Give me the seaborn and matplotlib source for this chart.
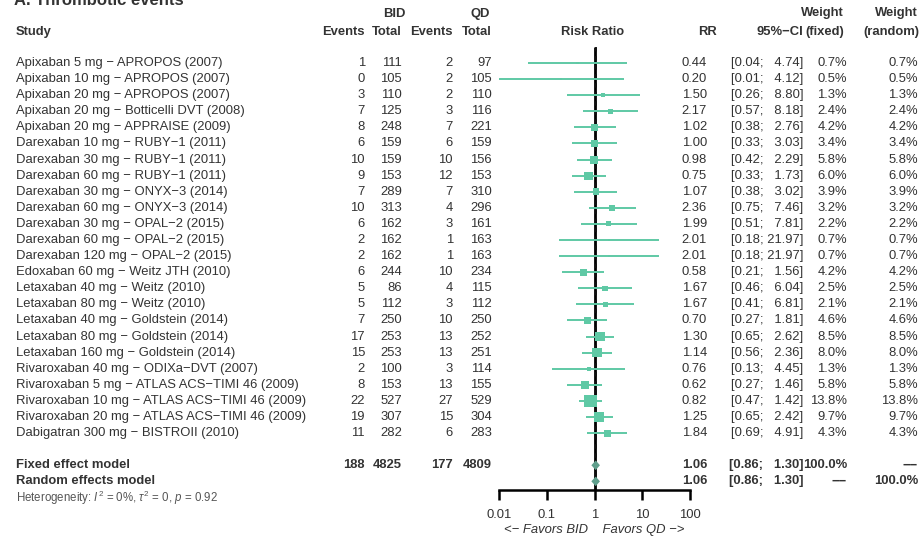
import numpy as np
import pandas as pd
import matplotlib
matplotlib.use("Agg")
import matplotlib.pyplot as plt
import seaborn as sns

# ---------------- data ----------------
studies = [
    "Apixaban 5 mg − APROPOS (2007)",
    "Apixaban 10 mg − APROPOS (2007)",
    "Apixaban 20 mg − APROPOS (2007)",
    "Apixaban 20 mg − Botticelli DVT (2008)",
    "Apixaban 20 mg − APPRAISE (2009)",
    "Darexaban 10 mg − RUBY−1 (2011)",
    "Darexaban 30 mg − RUBY−1 (2011)",
    "Darexaban 60 mg − RUBY−1 (2011)",
    "Darexaban 30 mg − ONYX−3 (2014)",
    "Darexaban 60 mg − ONYX−3 (2014)",
    "Darexaban 30 mg − OPAL−2 (2015)",
    "Darexaban 60 mg − OPAL−2 (2015)",
    "Darexaban 120 mg − OPAL−2 (2015)",
    "Edoxaban 60 mg − Weitz JTH (2010)",
    "Letaxaban 40 mg − Weitz (2010)",
    "Letaxaban 80 mg − Weitz (2010)",
    "Letaxaban 40 mg − Goldstein (2014)",
    "Letaxaban 80 mg − Goldstein (2014)",
    "Letaxaban 160 mg − Goldstein (2014)",
    "Rivaroxaban 40 mg − ODIXa−DVT (2007)",
    "Rivaroxaban 5 mg − ATLAS ACS−TIMI 46 (2009)",
    "Rivaroxaban 10 mg − ATLAS ACS−TIMI 46 (2009)",
    "Rivaroxaban 20 mg − ATLAS ACS−TIMI 46 (2009)",
    "Dabigatran 300 mg − BISTROII (2010)",
]
events_bid = [1, 0, 3, 7, 8, 6, 10, 9, 7, 10, 6, 2, 2, 6, 5, 5, 7, 17, 15, 2, 8, 22, 19, 11]
total_bid = [111, 105, 110, 125, 248, 159, 159, 153, 289, 313, 162, 162, 162, 244, 86, 112, 250, 253, 253, 100, 153, 527, 307, 282]
events_qd = [2, 2, 2, 3, 7, 6, 10, 12, 7, 4, 3, 1, 1, 10, 4, 3, 10, 13, 13, 3, 13, 27, 15, 6]
total_qd = [97, 105, 110, 116, 221, 159, 156, 153, 310, 296, 161, 163, 163, 234, 115, 112, 250, 252, 251, 114, 155, 529, 304, 283]
rr = [0.44, 0.20, 1.50, 2.17, 1.02, 1.00, 0.98, 0.75, 1.07, 2.36, 1.99, 2.01, 2.01, 0.58, 1.67, 1.67, 0.70, 1.30, 1.14, 0.76, 0.62, 0.82, 1.25, 1.84]
ci_low = [0.04, 0.01, 0.26, 0.57, 0.38, 0.33, 0.42, 0.33, 0.38, 0.75, 0.51, 0.18, 0.18, 0.21, 0.46, 0.41, 0.27, 0.65, 0.56, 0.13, 0.27, 0.47, 0.65, 0.69]
ci_high = [4.74, 4.12, 8.80, 8.18, 2.76, 3.03, 2.29, 1.73, 3.02, 7.46, 7.81, 21.97, 21.97, 1.56, 6.04, 6.81, 1.81, 2.62, 2.36, 4.45, 1.46, 1.42, 2.42, 4.91]
weight_fixed = [0.7, 0.5, 1.3, 2.4, 4.2, 3.4, 5.8, 6.0, 3.9, 3.2, 2.2, 0.7, 0.7, 4.2, 2.5, 2.1, 4.6, 8.5, 8.0, 1.3, 5.8, 13.8, 9.7, 4.3]
weight_random = [0.7, 0.5, 1.3, 2.4, 4.2, 3.4, 5.8, 6.0, 3.9, 3.2, 2.2, 0.7, 0.7, 4.2, 2.5, 2.1, 4.6, 8.5, 8.0, 1.3, 5.8, 13.8, 9.7, 4.3]

model_labels = ["Fixed effect model", "Random effects model"]
pooled_counts = [188, 4825, 177, 4809]
pooled_rr = [1.06, 1.06]
pooled_low = [0.86, 0.86]
pooled_high = [1.30, 1.30]
pooled_w_fixed = ["100.0%", "−−"]
pooled_w_random = ["−−", "100.0%"]
heterogeneity = r"Heterogeneity: $I^2$ = 0%, $\tau^2$ = 0, $p$ = 0.92"

axis_ticks = [0.01, 0.1, 1, 10, 100]
axis_tick_labels = ["0.01", "0.1", "1", "10", "100"]
axis_label = "<− Favors BID    Favors QD −>"
title = "A. Thrombotic events"

# ---------------- style ----------------
sns.set_theme(style="white")
plt.rcParams['font.family'] = ['Liberation Sans', 'DejaVu Sans']
plt.rcParams['mathtext.fontset'] = 'custom'
plt.rcParams['mathtext.rm'] = 'Liberation Sans'
plt.rcParams['mathtext.it'] = 'Liberation Sans:italic'
plt.rcParams['mathtext.bf'] = 'Liberation Sans:bold'

GREEN = "#5fc9a5"
DIAMOND = "#5f9f8c"
TXT = "#333333"
FS = 9.4

W, H = 921, 541
fig = plt.figure(figsize=(W / 100, H / 100), dpi=100)
fig.patch.set_facecolor("white")

ROW0, STEP = 63, 16.09


def rp(px):
    return (px - ROW0) / STEP


# text axes (x in pixels, y in row units)
ax_t = fig.add_axes([0, 0, 1, 1])
ax_t.set_xlim(0, W)
ax_t.set_ylim(rp(H), rp(0))
ax_t.axis("off")

# forest axes
AX_L, AX_R, AX_B = 499, 690, 490
ax = fig.add_axes([AX_L / W, (H - AX_B) / H, (AX_R - AX_L) / W, AX_B / H])
ax.patch.set_alpha(0)
ax.set_xscale("log")
ax.set_xlim(0.01, 100)
ax.set_ylim(rp(AX_B), rp(0))

n = len(studies)
rows = np.arange(n)

# reference lines
ax.vlines(1, rp(47), rp(AX_B), color="black", lw=2.0, zorder=1)
ax.vlines(pooled_rr[0], rp(47), rp(AX_B), color="#111111", lw=1.3,
          linestyles=(0, (2.5, 2.5)), zorder=1)

# confidence intervals
ax.hlines(rows, ci_low, ci_high, color=GREEN, lw=1.4, zorder=2)

df = pd.DataFrame({"rr": rr, "row": rows, "w": weight_fixed})
sns.scatterplot(data=df, x="rr", y="row", size="w", sizes=(0, 80),
                size_norm=(0, max(weight_fixed)), marker="s", color=GREEN,
                linewidth=0, legend=False, ax=ax, zorder=3)

# diamonds
for i in range(2):
    r = n + 1 + i
    ax.fill([pooled_low[i], pooled_rr[i], pooled_high[i], pooled_rr[i]],
            [r, r - 0.3, r, r + 0.3], color=DIAMOND, lw=0, zorder=4)

for s in ["top", "left", "right"]:
    ax.spines[s].set_visible(False)
ax.spines["bottom"].set_linewidth(1.8)
ax.spines["bottom"].set_color("black")
ax.set_xticks(axis_ticks)
ax.set_xticklabels(axis_tick_labels)
ax.xaxis.set_minor_locator(matplotlib.ticker.NullLocator())
ax.tick_params(axis="x", length=7, width=1.8, direction="out", color="black",
               labelsize=FS, labelcolor=TXT, pad=7, bottom=True)
ax.tick_params(axis="y", left=False, labelleft=False)
ax.set_ylabel("")
ax.set_xlabel(axis_label, fontsize=FS, style="italic", color=TXT, labelpad=2)

# ---------------- text columns ----------------
X_STUDY = 16
X_EB, X_TB, X_EQ, X_TQ = 365, 402, 453, 492
X_RR, X_CI, X_WF, X_WR = 707, 803, 847, 918
X_PLOT = 593

hb = dict(fontsize=FS, weight="bold", color=TXT, va="center")
ax_t.text(14, rp(5), title, fontsize=12, weight="bold", color=TXT, va="baseline")
ax_t.text(X_STUDY, rp(32), "Study", ha="left", **hb)
ax_t.text(X_TB - 8, rp(14), "BID", ha="center", **hb)
ax_t.text(X_TQ - 12, rp(14), "QD", ha="center", **hb)
for x, lab in [(X_EB, "Events"), (X_TB, "Total"), (X_EQ, "Events"), (X_TQ, "Total")]:
    ax_t.text(x, rp(32), lab, ha="right", **hb)
ax_t.text(X_PLOT, rp(32), "Risk Ratio", ha="center", **hb)
ax_t.text(X_RR + 10, rp(32), "RR", ha="right", **hb)
ax_t.text(X_CI, rp(32), "95%−CI", ha="right", **hb)
ax_t.text(X_WF - 3, rp(13), "Weight", ha="right", **hb)
ax_t.text(X_WF - 3, rp(32), "(fixed)", ha="right", **hb)
ax_t.text(X_WR, rp(13), "Weight", ha="right", **hb)
ax_t.text(X_WR + 1, rp(32), "(random)", ha="right", **hb)


def ci_text(lo, hi):
    pad = "  " if hi < 10 else ""
    return f"[{lo:.2f}; {pad}{hi:.2f}]"


tn = dict(fontsize=FS, color=TXT, va="center")
for i in range(n):
    ax_t.text(X_STUDY, i, studies[i], ha="left", **tn)
    ax_t.text(X_EB, i, str(events_bid[i]), ha="right", **tn)
    ax_t.text(X_TB, i, str(total_bid[i]), ha="right", **tn)
    ax_t.text(X_EQ, i, str(events_qd[i]), ha="right", **tn)
    ax_t.text(X_TQ, i, str(total_qd[i]), ha="right", **tn)
    ax_t.text(X_RR, i, f"{rr[i]:.2f}", ha="right", **tn)
    ax_t.text(X_CI, i, ci_text(ci_low[i], ci_high[i]), ha="right", **tn)
    ax_t.text(X_WF, i, f"{weight_fixed[i]:.1f}%", ha="right", **tn)
    ax_t.text(X_WR, i, f"{weight_random[i]:.1f}%", ha="right", **tn)

for k in range(2):
    r = n + 1 + k
    ax_t.text(X_STUDY, r, model_labels[k], ha="left", **hb)
    if k == 0:
        for x, v in zip([X_EB, X_TB, X_EQ, X_TQ], pooled_counts):
            ax_t.text(x, r, str(v), ha="right", **hb)
    ax_t.text(X_RR, r, f"{pooled_rr[k]:.2f}", ha="right", **hb)
    ax_t.text(X_CI, r, ci_text(pooled_low[k], pooled_high[k]), ha="right", **hb)
    ax_t.text(X_WF, r, pooled_w_fixed[k], ha="right", **hb)
    ax_t.text(X_WR, r, pooled_w_random[k], ha="right", **hb)

ax_t.text(X_STUDY, n + 3, heterogeneity, ha="left", va="center", fontsize=8.3, color="#555555")

fig.savefig("out.png", dpi=100, facecolor="white")
